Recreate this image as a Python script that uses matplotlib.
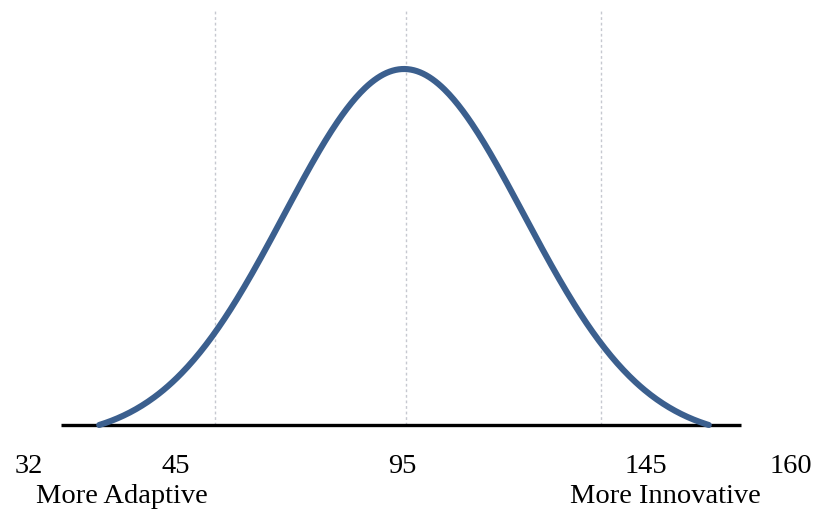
"""Bell curve of KAI scores: adaptive on the left, innovative on the right."""

import matplotlib

matplotlib.use("Agg")
import matplotlib.pyplot as plt
import numpy as np

# labels under the baseline
score_labels = ["32", "45", "95", "145", "160"]
end_captions = ["More Adaptive", "More Innovative"]

# curve in standard-deviation units; clipped where it meets the baseline
curve_cutoff = 2.54
guide_lines = [-1.575, 0.02, 1.64]     # faint dotted verticals
baseline_span = [-2.86, 2.81]

# layout (figure fractions)
label_x = [29 / 817, 176 / 817, 402 / 817, 646 / 817, 791 / 817]
caption_x = [122 / 817, 665 / 817]

CURVE = "#3b5f8e"
SERIF = ["Liberation Serif", "DejaVu Serif"]

fig = plt.figure(figsize=(8.17, 5.10), dpi=100)
ax = fig.add_axes([0, 0, 1, 1])

px = 120.0                       # pixels per standard deviation
center_px = 404.0
floor = np.exp(-curve_cutoff ** 2 / 2)
peak = 1 - floor
unit = peak / 356.0              # y data per pixel
ax.set_xlim(-center_px / px, (817 - center_px) / px)
ax.set_ylim(-84 * unit, (510 - 84) * unit)

z = np.linspace(-curve_cutoff, curve_cutoff, 400)
ax.plot(z, np.exp(-z ** 2 / 2) - floor, color=CURVE, lw=4.4,
        solid_capstyle="round", zorder=3)

for g in guide_lines:
    ax.vlines(g, 0, (510 - 10 - 84) * unit, color="#c6c8d0", lw=1.0,
              linestyles=(0, (2, 2)), zorder=1)

ax.hlines(0, baseline_span[0], baseline_span[1], color="black", lw=2.4, zorder=2)
ax.axis("off")

for x, t in zip(label_x, score_labels):
    fig.text(x, 1 - 473 / 510, t, ha="center", va="baseline",
             fontsize=20.5, family=SERIF)
for x, t in zip(caption_x, end_captions):
    fig.text(x, 1 - 503 / 510, t, ha="center", va="baseline",
             fontsize=20.5, family=SERIF)

fig.savefig("out.png", dpi=100)
